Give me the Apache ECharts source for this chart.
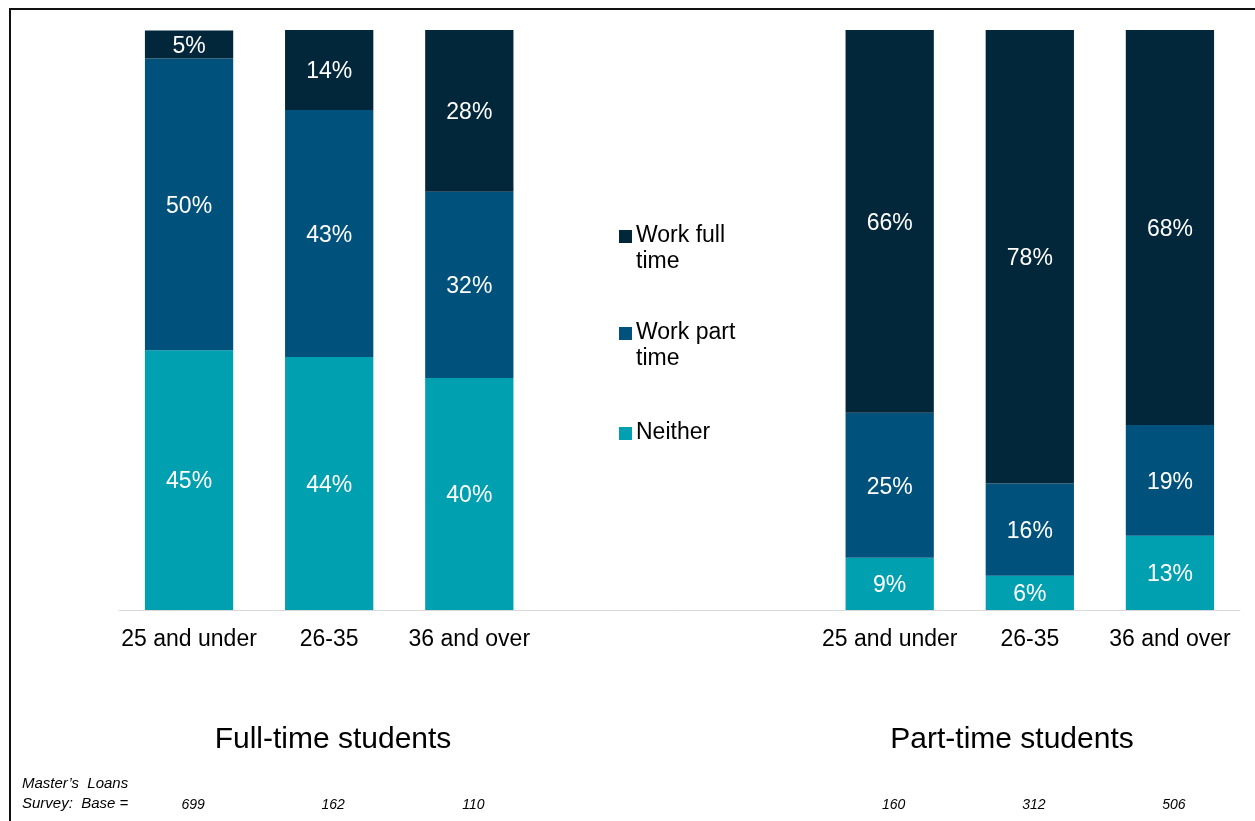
<!DOCTYPE html>
<html>
<head>
<meta charset="utf-8">
<script src="https://cdn.jsdelivr.net/npm/echarts@6/dist/echarts.min.js"></script>
<style>
html,body{margin:0;padding:0;background:#fff;}
#chart{width:1255px;height:821px;}
</style>
</head>
<body>
<div id="chart"></div>
<script>
// ---- data ----
const categories = ['25 and under', '26-35', '36 and over', '', '', '25 and under', '26-35', '36 and over'];
const seriesNames = ['Work full time', 'Work part time', 'Neither'];
const workFullTime = [4.8, 13.8, 27.9, null, null, 66.0, 78.2, 68.1];
const workPartTime = [50.3, 42.6, 32.1, null, null, 25.0, 15.9, 19.1];
const neither = [44.8, 43.6, 40.0, null, null, 9.0, 5.9, 12.8];
const baseCounts = ['699', '162', '110', '', '', '160', '312', '506'];
const groupTitles = ['Full-time students', 'Part-time students'];
const baseLabelLines = ["Master\u2019s  Loans", 'Survey:  Base ='];
const legendLines = [['Work full', 'time'], ['Work part', 'time'], ['Neither']];

// ---- style ----
const colors = ['#02263A', '#00527C', '#00A0B0'];
const FONT = 'Liberation Sans, Arial, sans-serif';

const chart = echarts.init(document.getElementById('chart'));

function barSeries(name, data, color) {
  return {
    name: name,
    type: 'bar',
    stack: 'total',
    data: data,
    barWidth: '63%',
    itemStyle: { color: color },
    label: {
      show: true,
      position: 'inside',
      offset: [0, 2],
      color: '#fff',
      fontSize: 23,
      fontFamily: FONT,
      formatter: p => (p.value == null ? '' : Math.round(p.value) + '%')
    }
  };
}

const graphics = [];
// border
graphics.push({
  type: 'rect', silent: true,
  shape: { x: 10, y: 9, width: 1400, height: 1000 },
  style: { fill: 'none', stroke: '#111', lineWidth: 2 }
});
// legend
const legendX = 619, legendY = [236, 333, 433], lineH = 26;
legendLines.forEach((lines, i) => {
  graphics.push({
    type: 'rect', silent: true,
    shape: { x: legendX, y: legendY[i] - 6, width: 13, height: 13 },
    style: { fill: colors[i] }
  });
  lines.forEach((t, j) => {
    graphics.push({
      type: 'text', silent: true,
      x: legendX + 17, y: legendY[i] + j * lineH,
      style: { text: t, fill: '#000', font: '23px ' + FONT, textVerticalAlign: 'middle', verticalAlign: 'middle' }
    });
  });
});
// group titles
const titleX = [333, 1012];
groupTitles.forEach((t, i) => {
  graphics.push({
    type: 'text', silent: true,
    x: titleX[i], y: 740,
    style: { text: t, fill: '#000', font: '30px ' + FONT, align: 'center', verticalAlign: 'middle', textAlign: 'center', textVerticalAlign: 'middle' }
  });
});
// base label
baseLabelLines.forEach((t, j) => {
  graphics.push({
    type: 'text', silent: true,
    x: 22, y: 784 + j * 20,
    style: { text: t, fill: '#000', font: 'italic 15px ' + FONT, verticalAlign: 'middle', textVerticalAlign: 'middle' }
  });
});

const option = {
  animation: false,
  backgroundColor: '#fff',
  color: colors,
  grid: { left: 119, right: 15, top: 30, bottom: 211, containLabel: false },
  xAxis: [
    {
      type: 'category',
      data: categories,
      axisLine: { show: true, lineStyle: { color: '#d9d9d9', width: 1 } },
      axisTick: { show: false },
      axisLabel: { color: '#000', fontSize: 23, fontFamily: FONT, margin: 18, interval: 0 }
    },
    {
      type: 'category',
      data: baseCounts,
      position: 'bottom',
      offset: 180,
      axisLine: { show: false },
      axisTick: { show: false },
      axisLabel: { color: '#000', fontSize: 14, fontStyle: 'italic', fontFamily: FONT, interval: 0, padding: [0, 0, 0, 8] }
    }
  ],
  yAxis: { type: 'value', min: 0, max: 100, show: false, splitLine: { show: false } },
  series: [
    barSeries(seriesNames[2], neither, colors[2]),
    barSeries(seriesNames[1], workPartTime, colors[1]),
    barSeries(seriesNames[0], workFullTime, colors[0])
  ],
  graphic: graphics
};
chart.setOption(option);
</script>
</body>
</html>
